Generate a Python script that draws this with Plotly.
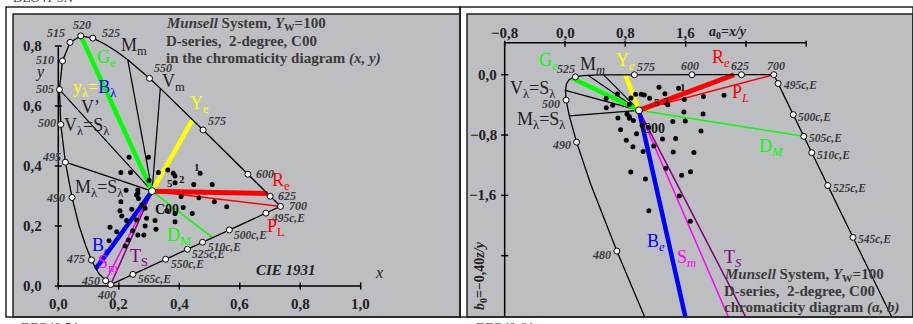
import plotly.graph_objects as go

W, H = 913, 324
FONT = "Liberation Serif"
GRAY = "#bdbec2"
TXT = "#3a3a3a"

# CIE 1931 2-degree spectral locus, 400..700 nm in 5 nm steps
wavelengths = list(range(400, 701, 5))
locus_x = [0.17334, 0.17302, 0.17258, 0.17209, 0.17141, 0.17030, 0.16888, 0.16690,
           0.16441, 0.16110, 0.15664, 0.15099, 0.14396, 0.13550, 0.12412, 0.10959,
           0.09129, 0.06871, 0.04539, 0.02346, 0.00817, 0.00386, 0.01387, 0.03885,
           0.07430, 0.11416, 0.15472, 0.19288, 0.22962, 0.26578, 0.30160, 0.33736,
           0.37310, 0.40874, 0.44406, 0.47877, 0.51249, 0.54479, 0.57515, 0.60293,
           0.62704, 0.64823, 0.66576, 0.68008, 0.69150, 0.70061, 0.70792, 0.71403,
           0.71903, 0.72303, 0.72599, 0.72827, 0.72997, 0.73109, 0.73199, 0.73272,
           0.73342, 0.73405, 0.73439, 0.73459, 0.73469]
locus_y = [0.00480, 0.00478, 0.00480, 0.00483, 0.00510, 0.00579, 0.00690, 0.00856,
           0.01086, 0.01379, 0.01771, 0.02274, 0.02970, 0.03988, 0.05780, 0.08684,
           0.13270, 0.20072, 0.29498, 0.41270, 0.53842, 0.65482, 0.75019, 0.81202,
           0.83380, 0.82621, 0.80586, 0.78163, 0.75433, 0.72432, 0.69231, 0.65885,
           0.62445, 0.58961, 0.55471, 0.52020, 0.48659, 0.45443, 0.42423, 0.39650,
           0.37249, 0.35139, 0.33401, 0.31975, 0.30834, 0.29930, 0.29203, 0.28593,
           0.28093, 0.27695, 0.27401, 0.27173, 0.27003, 0.26891, 0.26801, 0.26728,
           0.26658, 0.26595, 0.26561, 0.26541, 0.26531]

centre_xy = (0.3101, 0.3162)   # C00
white_e = (1 / 3, 1 / 3)

dot_x = [0.234, 0.298, 0.207, 0.239, 0.362, 0.386, 0.469, 0.448, 0.509, 0.386,
         0.406, 0.465, 0.516, 0.557, 0.263, 0.265, 0.207, 0.204, 0.243, 0.287,
         0.359, 0.386, 0.443, 0.413, 0.171, 0.226, 0.259, 0.292, 0.320, 0.386,
         0.287, 0.323, 0.263, 0.283, 0.246, 0.193, 0.221, 0.168, 0.232,
         0.331, 0.380, 0.300, 0.263, 0.259, 0.276, 0.224, 0.210]
dot_y = [0.429, 0.429, 0.378, 0.378, 0.387, 0.367, 0.376, 0.338, 0.338, 0.344,
         0.298, 0.294, 0.281, 0.264, 0.309, 0.292, 0.281, 0.251, 0.256, 0.259,
         0.251, 0.242, 0.242, 0.262, 0.196, 0.218, 0.220, 0.226, 0.218, 0.214,
         0.200, 0.189, 0.170, 0.170, 0.184, 0.181, 0.133, 0.151, 0.153,
         0.378, 0.376, 0.352, 0.320, 0.303, 0.270, 0.319, 0.233]

marked_xy = [400, 450, 475, 490, 495, 500, 505, 510, 515, 520, 525, 550, 575, 600, 625, 700]
marked_ab = [480, 490, 500, 525, 575, 600, 625, 700]
purple_xy = [495, 500, 510, 525, 550, 565]
purple_ab = [495, 500, 505, 510, 525, 545]
black_rays = [505, 495, 540, 555]

xy_ticks = [0.0, 0.2, 0.4, 0.6, 0.8, 1.0]
xy_tick_labels = ["0,0", "0,2", "0,4", "0,6", "0,8", "1,0"]
a_ticks = [-0.8, 0.0, 0.8, 1.6, 2.4, 3.2]
a_tick_labels = ["\u22120,8", "0,0", "0,8", "1,6", "", ""]
b_ticks = [0.0, -0.8, -1.6, -2.4]
b_tick_labels = ["0,0", "\u22120,8", "\u22121,6", ""]

spec = dict(zip(wavelengths, zip(locus_x, locus_y)))


def to_ab(x, y):
    return x / y, -0.4 * (1 - x - y) / y


def purple_point(lam):
    # complementary wavelength on the purple line, seen from E
    sx, sy = spec[lam]
    ex, ey = white_e
    dx, dy = ex - sx, ey - sy
    (p0x, p0y), (p1x, p1y) = spec[400], spec[700]
    ux, uy = p1x - p0x, p1y - p0y
    rx, ry = p0x - ex, p0y - ey
    det = -dx * uy + ux * dy
    t = (-rx * uy + ux * ry) / det
    return ex + t * dx, ey + t * dy


# pixel calibration of both panels
L = dict(x0=58.3, kx=302.4, y0=286.0, ky=300.0, box=(13, 14, 460, 317))
R = dict(x0=565.0, kx=75.4, y0=74.7, ky=75.4, box=(467, 14, 913, 317))


def rng(c):
    l, t, r, b = c["box"]
    return ([(l - c["x0"]) / c["kx"], (r - c["x0"]) / c["kx"]],
            [(c["y0"] - b) / c["ky"], (c["y0"] - t) / c["ky"]])


def P(px, py):
    return px / W, 1 - py / H


fig = go.Figure()


def add_line(xs, ys, color, width, right=False):
    fig.add_trace(go.Scatter(x=xs, y=ys, mode="lines", line=dict(color=color, width=width),
                             xaxis="x2" if right else "x", yaxis="y2" if right else "y",
                             hoverinfo="skip"))


def add_pts(xs, ys, right=False, filled=False, size=6):
    if filled:
        mk = dict(size=size, color="black")
    else:
        mk = dict(size=size, color="white", line=dict(color="black", width=1))
    fig.add_trace(go.Scatter(x=xs, y=ys, mode="markers", marker=mk,
                             xaxis="x2" if right else "x", yaxis="y2" if right else "y",
                             hoverinfo="skip"))


annotations = []


def ann(text, x, y, right=None, size=12, color=TXT, xa="center", ya="middle",
        dx=0, dy=0, angle=0):
    if right is None:
        xr, yr = "paper", "paper"
    else:
        xr, yr = ("x2", "y2") if right else ("x", "y")
    annotations.append(dict(text=text, x=x, y=y, xref=xr, yref=yr, showarrow=False,
                            xanchor=xa, yanchor=ya, xshift=dx, yshift=-dy, align="left",
                            borderpad=0, textangle=angle,
                            font=dict(family=FONT, size=size, color=color)))


# ---- axes drawn by hand ----
tl = 3.5
tx = [0, 1.0, None]
ty = [0, 0, None]
for t in xy_ticks:
    tx += [t, t, None]
    ty += [-tl / L["ky"], tl / L["ky"], None]
tx += [0, 0, None]
ty += [0, 0.8, None]
for t in xy_ticks[:-1]:
    tx += [-tl / L["kx"], tl / L["kx"], None]
    ty += [t, t, None]
add_line(tx, ty, "black", 1.5)

b_top = (R["y0"] - 42.7) / R["ky"]
b_bot = rng(R)[1][0]
ax = [a_ticks[0], a_ticks[-1], None, a_ticks[0], a_ticks[0], None]
ay = [b_top, b_top, None, b_top, b_bot, None]
for t in a_ticks:
    ax += [t, t, None]
    ay += [b_top + 2 / R["ky"], b_top - 4 / R["ky"], None]
for t in b_ticks:
    ax += [a_ticks[0] - tl / R["kx"], a_ticks[0] + tl / R["kx"], None]
    ay += [t, t, None]
add_line(ax, ay, "black", 1.5, right=True)

for t, s in zip(xy_ticks, xy_tick_labels):
    ann("<b>%s</b>" % s, t, 0, right=False, size=15, color="#222", dy=18)
for t, s in zip(xy_ticks[:-1], xy_tick_labels[:-1]):
    ann("<b>%s</b>" % s, 0, t, right=False, size=15, color="#222", xa="right", dx=-15)
for t, s in zip(a_ticks, a_tick_labels):
    if s:
        ann("<b>%s</b>" % s, t, b_top, right=True, size=15, color="#222", dy=-10)
for t, s in zip(b_ticks, b_tick_labels):
    if s:
        ann("<b>%s</b>" % s, a_ticks[0], t, right=True, size=15, color="#222", xa="right", dx=-7)

# ---- rays from the centre ----
cx, cy = centre_xy
ca, cb = to_ab(cx, cy)
thin = [(spec[700], "#ff0000", 1.5), (purple_point(505), "#00ff00", 1.5),
        (spec[450], "#ff00ff", 1.5), (spec[400], "#800080", 1.5)]
thick = [(spec[520], "#00ff00", 4.5), (spec[570], "#ffff00", 4.5),
         (spec[620], "#ff0000", 5), (spec[470], "#0000ff", 4.5)]
for lam in black_rays:
    px_, py_ = spec[lam]
    add_line([px_, cx], [py_, cy], "black", 1.2)
    pa, pb = to_ab(px_, py_)
    add_line([pa, ca], [pb, cb], "black", 1.2, right=True)
for (px_, py_), col, w in thin + thick:
    add_line([cx, px_], [cy, py_], col, w)
    pa, pb = to_ab(px_, py_)
    add_line([ca, pa], [cb, pb], col, w, right=True)

# ---- spectral locus and purple line ----
lx = locus_x + [locus_x[0]]
ly = locus_y + [locus_y[0]]
add_line(lx, ly, "black", 1.3)
lab = [to_ab(x, y) for x, y in zip(locus_x, locus_y)]
ptop = to_ab(*spec[400])
add_line([p[0] for p in lab] + [ptop[0]], [p[1] for p in lab] + [ptop[1]],
         "black", 1.3, right=True)

# ---- samples ----
add_pts(dot_x, dot_y, filled=True, size=5)
dab = [to_ab(x, y) for x, y in zip(dot_x, dot_y)]
add_pts([p[0] for p in dab], [p[1] for p in dab], right=True, filled=True, size=5)

# ---- marked wavelengths ----
add_pts([spec[l][0] for l in marked_xy], [spec[l][1] for l in marked_xy])
pp = [purple_point(l) for l in purple_xy]
add_pts([p[0] for p in pp], [p[1] for p in pp])
mab = [to_ab(*spec[l]) for l in marked_ab] + [to_ab(*purple_point(l)) for l in purple_ab]
add_pts([p[0] for p in mab], [p[1] for p in mab], right=True)
add_pts([cx], [cy], size=7)
add_pts([ca], [cb], right=True, size=7)

# ---- wavelength labels ----
lab_xy = {400: ("center", -4, 10), 450: ("right", -5, 0), 475: ("right", -5, -1),
          490: ("right", -6, 0), 495: ("right", -3, -5), 500: ("right", -4, -1),
          505: ("right", -4, -1), 510: ("right", -7, -1), 515: ("right", -4, -9),
          520: ("center", 1, -11), 525: ("left", 8, -5), 550: ("left", 3, -10),
          575: ("left", 4, -9), 600: ("left", 7, 0), 625: ("left", 7, 0), 700: ("left", 8, 0)}
for lam, (xa, dx, dy) in lab_xy.items():
    ann("<b><i>%d</i></b>" % lam, spec[lam][0], spec[lam][1], right=False, xa=xa, dx=dx, dy=dy)
for lam in purple_xy:
    x, y = purple_point(lam)
    ann("<b><i>%dc,E</i></b>" % lam, x, y, right=False, xa="left", dx=4, dy=5, size=11.5)

lab_ab = {525: ("right", 1, -8), 575: ("left", 2, -8), 600: ("center", -2, -9),
          625: ("center", -2, -9), 700: ("center", 2, -9), 500: ("right", -5, 4),
          490: ("right", -5, 3), 480: ("right", -5, 4)}
for lam, (xa, dx, dy) in lab_ab.items():
    a, b = to_ab(*spec[lam])
    ann("<b><i>%d</i></b>" % lam, a, b, right=True, xa=xa, dx=dx, dy=dy)
for lam in purple_ab:
    a, b = to_ab(*purple_point(lam))
    ann("<b><i>%dc,E</i></b>" % lam, a, b, right=True, xa="left", dx=4, dy=2, size=11.5)


# ---- name labels, left panel ----
def lbl(text, px, py, size=18, color="#222", xa="left"):
    x, y = P(px, py)
    ann(text, x, y, size=size, color=color, xa=xa)


lbl("M<sub>m</sub>", 120, 47)
lbl("V<sub>m</sub>", 161, 82)
lbl("G<sub>e</sub>", 96, 58, color="#00ff00")
lbl('<span style="color:#ffff00">y<sub>\u03bb</sub>=</span><span style="color:#0000ff">B<sub>\u03bb</sub></span>',
    72, 88)
lbl("Y<sub>e</sub>", 189, 104, color="#ffff00")
lbl("V\u2019", 80, 107)
lbl("V<sub>\u03bb</sub>=S<sub>\u03bb</sub>", 63, 127)
lbl("M<sub>\u03bb</sub>=S<sub>\u03bb</sub>", 74, 188)
lbl("R<sub>e</sub>", 271, 181, color="#ff0000")
lbl("P<sub>L</sub>", 266, 227, color="#ff0000")
lbl("D<sub>M</sub>", 166, 236, color="#00ff00")
lbl("B<sub>e</sub>", 91, 246, color="#0000ff")
lbl("S<sub>m</sub>", 97, 263, color="#ff00ff")
lbl("T<sub>S</sub>", 129, 257, color="#800080")
lbl("<b><i>CIE 1931</i></b>", 255, 270, size=15)
lbl("<i>x</i>", 379, 272, size=16, xa="center")
lbl("<i>y</i>", 40, 72, size=16, xa="center")
lbl("<b>1</b>", 197, 167, size=11, color="#111", xa="center")
lbl("<b>2</b>", 182, 179, size=11, color="#111", xa="center")
lbl("<b>5</b>", 170, 183, size=11, color="#111", xa="center")
lbl("<b>C00</b>", 167, 209, size=14, color="#111", xa="center")
lbl("<b><i>Munsell</i> System, <i>Y</i><sub>W</sub>=100</b>", 165, 24, size=15, color=TXT)
lbl("<b>D-series,  2-degree, C00</b>", 165, 41, size=15, color=TXT)
lbl("<b>in the chromaticity diagram <i>(x, y)</i></b>", 165, 58, size=15, color=TXT)

# ---- name labels, right panel ----
lbl("G<sub><i>e</i></sub>", 538, 62, color="#00ff00")
lbl("M<sub><i>m</i></sub>", 579, 65)
lbl("Y<sub><i>e</i></sub>", 615, 62, color="#ffff00")
lbl("R<sub><i>e</i></sub>", 711, 58, color="#ff0000")
lbl("P<sub><i>L</i></sub>", 731, 94, color="#ff0000")
lbl("D<sub><i>M</i></sub>", 758, 147, color="#00ff00")
lbl("V<sub>\u03bb</sub>=S<sub>\u03bb</sub>", 509, 89)
lbl("M<sub>\u03bb</sub>=S<sub>\u03bb</sub>", 516, 120)
lbl("B<sub><i>e</i></sub>", 646, 242, color="#0000ff")
lbl("S<sub><i>m</i></sub>", 676, 258, color="#ff00ff")
lbl("T<sub><i>S</i></sub>", 723, 258, color="#800080")
lbl("<b>1</b>", 683, 87, size=11, color="#111", xa="center")
lbl("<b>5</b>", 657, 102, size=11, color="#111", xa="center")
lbl("<b>2</b>", 666, 101, size=11, color="#111", xa="center")
lbl("<b>C00</b>", 653, 128, size=14, color="#111", xa="center")
lbl("<b><i>a</i><sub>0</sub>=<i>x/y</i></b>", 728, 32, size=14, xa="center")
lbl("<b><i>Munsell</i> System, <i>Y</i><sub>W</sub>=100</b>", 723, 275, size=15, color=TXT)
lbl("<b>D-series,  2-degree, C00</b>", 723, 291, size=15, color=TXT)
lbl("<b>chromaticity diagram <i>(a, b)</i></b>", 723, 307, size=15, color=TXT)
x, y = P(480, 276)
ann("<b><i>b</i><sub>0</sub>=\u22120,40<i>z/y</i></b>", x, y, size=14, color="#222", angle=-90)

# page codes, partly cut by the window
x, y = P(12, -2)
ann("DEO41-3N", x, y, size=13, color="#444", xa="left", ya="middle")
x, y = P(20, 318)
ann("DEO40-5A", x, y, size=13, color="#444", xa="left", ya="top")
x, y = P(475, 318)
ann("DEO40-6A", x, y, size=13, color="#444", xa="left", ya="top")

# ---- frames ----
shapes = []
for x0, y0, x1, y1 in [(6, 7, 460, 317), (460, 7, 913, 317),
                       (13, 14, 460, 317), (467, 14, 913, 317)]:
    a0, b0 = P(x0, y0)
    a1, b1 = P(x1, y1)
    shapes.append(dict(type="rect", xref="paper", yref="paper", x0=a0, y0=b1, x1=a1, y1=b0,
                       line=dict(color="#222", width=1.5), fillcolor="rgba(0,0,0,0)",
                       layer="above"))

xr_l, yr_l = rng(L)
xr_r, yr_r = rng(R)
axis_style = dict(visible=False, showgrid=False, zeroline=False, fixedrange=True)
fig.update_layout(
    width=W, height=H, margin=dict(l=0, r=0, t=0, b=0),
    paper_bgcolor="white", plot_bgcolor=GRAY, showlegend=False,
    xaxis=dict(domain=[13 / W, 460 / W], range=xr_l, anchor="y", **axis_style),
    yaxis=dict(domain=[1 - 317 / H, 1 - 14 / H], range=yr_l, anchor="x", **axis_style),
    xaxis2=dict(domain=[467 / W, 913 / W], range=xr_r, anchor="y2", **axis_style),
    yaxis2=dict(domain=[1 - 317 / H, 1 - 14 / H], range=yr_r, anchor="x2", **axis_style),
    annotations=annotations, shapes=shapes,
)

# the page body has a default 8px margin; drop it so the figure sits at the window corner
fig.write_html("out.html", config={"displayModeBar": False},
               post_script="document.body.style.margin='0';document.body.style.overflow='hidden';")
